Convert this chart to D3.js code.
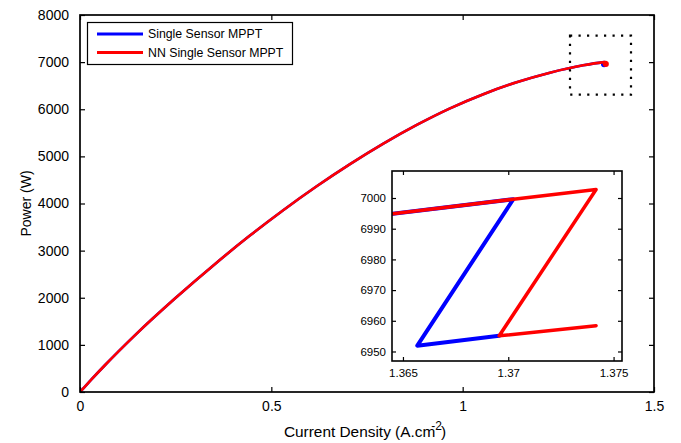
<!DOCTYPE html>
<html>
<head>
<meta charset="utf-8">
<script src="https://cdn.jsdelivr.net/npm/d3@7"></script>
<style>
  html, body { margin: 0; padding: 0; background: #fff; }
  svg { display: block; font-family: "Liberation Sans", Arial, sans-serif; }
</style>
</head>
<body>
<svg id="chart" width="681" height="443"></svg>
<script>
// Shared rise of the power–current curve (both trackers follow it)
const currentDensity = [0, 0.01, 0.03, 0.065, 0.144, 0.248, 0.353, 0.444, 0.531, 0.6185, 0.7056, 0.7927, 0.880, 0.967, 1.054, 1.141, 1.228, 1.315, 1.36452, 1.37024];
const power          = [0, 90, 267, 568, 1208, 1983, 2718, 3319, 3858, 4366, 4836, 5271, 5668, 6020, 6320, 6572, 6776, 6933, 6994.9, 6999.6];

// Behaviour of each tracker around the maximum power point
const singleTailI = [1.36568, 1.36957];
const singleTailP = [6951.9, 6955.1];
const nnTailI = [1.37417, 1.36957, 1.37417];
const nnTailP = [7002.8, 6955.1, 6958.4];

const seriesNames = ["Single Sensor MPPT", "NN Single Sensor MPPT"];
const seriesColors = ["#0000ff", "#ff0000"];

// Main axes ticks
const xTicks = [0, 0.5, 1, 1.5];
const yTicks = [0, 1000, 2000, 3000, 4000, 5000, 6000, 7000, 8000];
// Zoomed region marked on the main axes
const zoomBoxI = [1.2805, 1.4399];
const zoomBoxP = [6311, 7561];
// Inset axes
const insetDomainI = [1.36448, 1.3754];
const insetDomainP = [6946.9, 7008.8];
const insetXTicks = [1.365, 1.37, 1.375];
const insetYTicks = [6950, 6960, 6970, 6980, 6990, 7000];

const shared = currentDensity.map((c, i) => [c, power[i]]);
const tails = [
  singleTailI.map((c, i) => [c, singleTailP[i]]),
  nnTailI.map((c, i) => [c, nnTailP[i]])
];

// smooth rise followed by the straight tracking steps
function tracePath(xs, ys, tail) {
  const smooth = d3.line().x(d => xs(d[0])).y(d => ys(d[1])).curve(d3.curveMonotoneX)(shared);
  return smooth + tail.map(d => `L${xs(d[0])},${ys(d[1])}`).join("");
}

const svg = d3.select("#chart");

// ---------- main axes ----------
const M = { left: 80, right: 654, top: 15, bottom: 392 };
const x = d3.scaleLinear().domain([0, 1.5]).range([M.left, M.right]);
const y = d3.scaleLinear().domain([0, 8000]).range([M.bottom, M.top]);

svg.append("clipPath").attr("id", "mainClip")
  .append("rect").attr("x", M.left).attr("y", M.top)
  .attr("width", M.right - M.left).attr("height", M.bottom - M.top);

const gMain = svg.append("g").attr("clip-path", "url(#mainClip)");
tails.forEach((tail, i) => {
  gMain.append("path")
    .attr("d", tracePath(x, y, tail))
    .attr("fill", "none")
    .attr("stroke", seriesColors[i])
    .attr("stroke-width", 2.6)
    .attr("stroke-linejoin", "round")
    .attr("stroke-linecap", "round");
  const last = tail[tail.length - 1];
  gMain.append("circle")
    .attr("cx", x(last[0])).attr("cy", y(last[1]))
    .attr("r", 3).attr("fill", seriesColors[i]);
});

// dotted marker around the zoomed region
svg.append("rect")
  .attr("x", x(zoomBoxI[0])).attr("y", y(zoomBoxP[1]))
  .attr("width", x(zoomBoxI[1]) - x(zoomBoxI[0]))
  .attr("height", y(zoomBoxP[0]) - y(zoomBoxP[1]))
  .attr("fill", "none").attr("stroke", "#000")
  .attr("stroke-width", 2.2).attr("stroke-dasharray", "2.2,6.3");

// axes with inward ticks on all four sides
const tickLen = 5;
const styleAxis = g => {
  g.select(".domain").remove();
  g.selectAll(".tick line").attr("stroke", "#000").attr("stroke-width", 1.2);
};
const mainLabels = g => g.selectAll("text").attr("font-size", 14).attr("fill", "#000")
  .attr("font-family", "Liberation Sans, Arial, sans-serif");
svg.append("g").attr("transform", `translate(0,${M.bottom})`)
  .call(d3.axisBottom(x).tickValues(xTicks).tickSizeInner(-tickLen).tickSizeOuter(0).tickPadding(9).tickFormat(d3.format("")))
  .call(styleAxis).call(mainLabels);
svg.append("g").attr("transform", `translate(0,${M.top})`)
  .call(d3.axisTop(x).tickValues(xTicks).tickSizeInner(-tickLen).tickSizeOuter(0).tickFormat(""))
  .call(styleAxis);
svg.append("g").attr("transform", `translate(${M.left},0)`)
  .call(d3.axisLeft(y).tickValues(yTicks).tickSizeInner(-tickLen).tickSizeOuter(0).tickPadding(11).tickFormat(d3.format("d")))
  .call(styleAxis).call(mainLabels);
svg.append("g").attr("transform", `translate(${M.right},0)`)
  .call(d3.axisRight(y).tickValues(yTicks).tickSizeInner(-tickLen).tickSizeOuter(0).tickFormat(""))
  .call(styleAxis);

svg.append("rect")
  .attr("x", M.left).attr("y", M.top)
  .attr("width", M.right - M.left).attr("height", M.bottom - M.top)
  .attr("fill", "none").attr("stroke", "#000").attr("stroke-width", 1.7);

// axis titles
const xTitle = svg.append("text")
  .attr("x", (M.left + M.right) / 2 - 2).attr("y", 437)
  .attr("text-anchor", "middle").attr("font-size", 15.4).attr("fill", "#000");
xTitle.append("tspan").text("Current Density (A.cm");
xTitle.append("tspan").attr("dx", -4).attr("dy", -7).attr("font-size", 12).text("-2");
xTitle.append("tspan").attr("dx", -1).attr("dy", 7).text(")");

svg.append("text")
  .attr("transform", `translate(31,${(M.top + M.bottom) / 2}) rotate(-90)`)
  .attr("text-anchor", "middle").attr("font-size", 14).attr("fill", "#000")
  .text("Power (W)");

// ---------- legend ----------
const legend = svg.append("g");
legend.append("rect")
  .attr("x", 87.5).attr("y", 22.5).attr("width", 205).attr("height", 42)
  .attr("fill", "#fff").attr("stroke", "#000").attr("stroke-width", 1.2);
seriesNames.forEach((name, i) => {
  const ly = 34 + i * 18.5;
  legend.append("line")
    .attr("x1", 97).attr("x2", 143).attr("y1", ly).attr("y2", ly)
    .attr("stroke", seriesColors[i]).attr("stroke-width", 3);
  legend.append("text")
    .attr("x", 148).attr("y", ly).attr("dy", "0.36em")
    .attr("font-size", 12.3).attr("fill", "#000").text(name);
});

// ---------- inset ----------
const I = { left: 392, right: 622, top: 171, bottom: 361 };
const xi = d3.scaleLinear().domain(insetDomainI).range([I.left, I.right]);
const yi = d3.scaleLinear().domain(insetDomainP).range([I.bottom, I.top]);

svg.append("rect")
  .attr("x", I.left).attr("y", I.top)
  .attr("width", I.right - I.left).attr("height", I.bottom - I.top)
  .attr("fill", "#fff");

svg.append("clipPath").attr("id", "insetClip")
  .append("rect").attr("x", I.left).attr("y", I.top)
  .attr("width", I.right - I.left).attr("height", I.bottom - I.top);

const gInset = svg.append("g").attr("clip-path", "url(#insetClip)");
tails.forEach((tail, i) => {
  gInset.append("path")
    .attr("d", tracePath(xi, yi, tail))
    .attr("fill", "none")
    .attr("stroke", seriesColors[i])
    .attr("stroke-width", i === 0 ? 4 : 3.5)
    .attr("stroke-linejoin", "round")
    .attr("stroke-linecap", "round");
});

const insetTick = 4;
const insetLabels = g => g.selectAll("text").attr("font-size", 11.5).attr("fill", "#000")
  .attr("font-family", "Liberation Sans, Arial, sans-serif");
svg.append("g").attr("transform", `translate(0,${I.bottom})`)
  .call(d3.axisBottom(xi).tickValues(insetXTicks).tickSizeInner(-insetTick).tickSizeOuter(0).tickPadding(8).tickFormat(d3.format("")))
  .call(styleAxis).call(insetLabels);
svg.append("g").attr("transform", `translate(0,${I.top})`)
  .call(d3.axisTop(xi).tickValues(insetXTicks).tickSizeInner(-insetTick).tickSizeOuter(0).tickFormat(""))
  .call(styleAxis);
svg.append("g").attr("transform", `translate(${I.left},0)`)
  .call(d3.axisLeft(yi).tickValues(insetYTicks).tickSizeInner(-insetTick).tickSizeOuter(0).tickPadding(6).tickFormat(d3.format("d")))
  .call(styleAxis).call(insetLabels);
svg.append("g").attr("transform", `translate(${I.right},0)`)
  .call(d3.axisRight(yi).tickValues(insetYTicks).tickSizeInner(-insetTick).tickSizeOuter(0).tickFormat(""))
  .call(styleAxis);

svg.append("rect")
  .attr("x", I.left).attr("y", I.top)
  .attr("width", I.right - I.left).attr("height", I.bottom - I.top)
  .attr("fill", "none").attr("stroke", "#000").attr("stroke-width", 1.6);
</script>
</body>
</html>
